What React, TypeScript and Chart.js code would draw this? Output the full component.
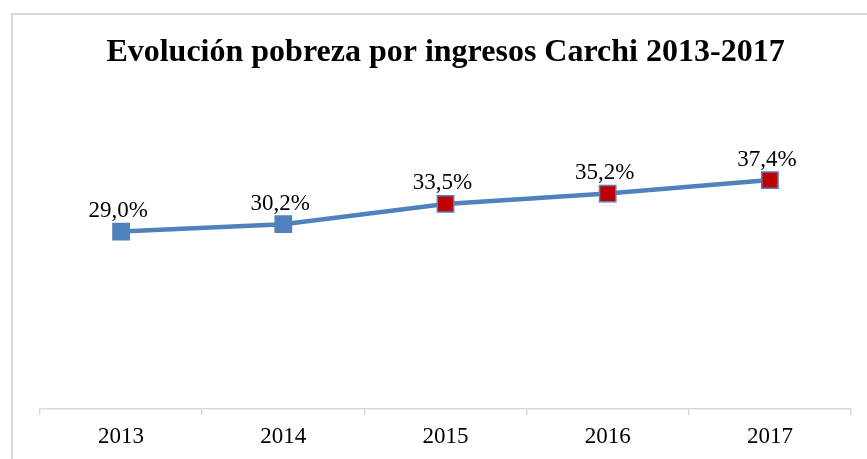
import React, { useEffect, useRef } from "react";
import { Chart, registerables } from "chart.js";

Chart.register(...registerables);

const titleText = "Evolución pobreza por ingresos Carchi 2013-2017";
const years = ["2013", "2014", "2015", "2016", "2017"];
const povertyRate = [29.0, 30.2, 33.5, 35.2, 37.4];
const markerFill = ["#4F81BD", "#4F81BD", "#C00000", "#C00000", "#C00000"];

const SERIF = "'Liberation Serif', 'Times New Roman', serif";

const frameAndLabels = {
  id: "frameAndLabels",
  beforeDraw(chart: any) {
    const ctx = chart.ctx;
    ctx.save();
    ctx.fillStyle = "#ffffff";
    ctx.fillRect(0, 0, chart.width, chart.height);
    ctx.strokeStyle = "#D9D9D9";
    ctx.lineWidth = 2;
    ctx.strokeRect(12, 14, chart.width + 40, chart.height + 40);
    ctx.restore();
  },
  afterDatasetsDraw(chart: any) {
    const ctx = chart.ctx;
    const meta = chart.getDatasetMeta(0);
    ctx.save();
    ctx.font = `23px ${SERIF}`;
    ctx.fillStyle = "#000000";
    ctx.textAlign = "center";
    ctx.textBaseline = "alphabetic";
    meta.data.forEach((pt: any, i: number) => {
      const label = povertyRate[i].toFixed(1).replace(".", ",") + "%";
      ctx.fillText(label, pt.x - 3, pt.y - 14.5);
    });
    ctx.restore();
  },
};

export default function App() {
  const ref = useRef<HTMLCanvasElement>(null);
  useEffect(() => {
    if (!ref.current) return;
    const chart = new Chart(ref.current, {
      type: "line",
      data: {
        labels: years,
        datasets: [
          {
            data: povertyRate,
            borderColor: "#4F81BD",
            borderWidth: 4.5,
            tension: 0,
            pointStyle: "rect",
            pointRadius: 11.5,
            pointHoverRadius: 11.5,
            pointBackgroundColor: markerFill,
            pointBorderColor: "#4F81BD",
            pointBorderWidth: 1.5,
          },
        ],
      },
      options: {
        responsive: false,
        animation: false,
        layout: { padding: { left: 40, right: 16, top: 0, bottom: 0 } },
        plugins: {
          legend: { display: false },
          tooltip: { enabled: false },
          title: {
            display: true,
            text: titleText,
            color: "#000000",
            font: { family: SERIF, size: 32, weight: "bold" },
            padding: { top: 34, bottom: 30.6 },
          },
        },
        scales: {
          x: {
            offset: true,
            grid: {
              offset: true,
              drawOnChartArea: false,
              drawTicks: true,
              tickLength: 6,
              color: "#D9D9D9",
              lineWidth: 1.5,
            },
            border: { display: true, color: "#D9D9D9", width: 1.5 },
            ticks: {
              color: "#000000",
              font: { family: SERIF, size: 23 },
              padding: 8.2,
              maxRotation: 0,
            },
          },
          y: {
            display: false,
            min: 0,
            max: 50,
          },
        },
      },
      plugins: [frameAndLabels],
    });
    return () => chart.destroy();
  }, []);
  return (
    <div style={{ position: "absolute", left: 0, top: 0, width: 867, height: 459 }}>
      <canvas ref={ref} width={867} height={459} style={{ display: "block" }} />
    </div>
  );
}
